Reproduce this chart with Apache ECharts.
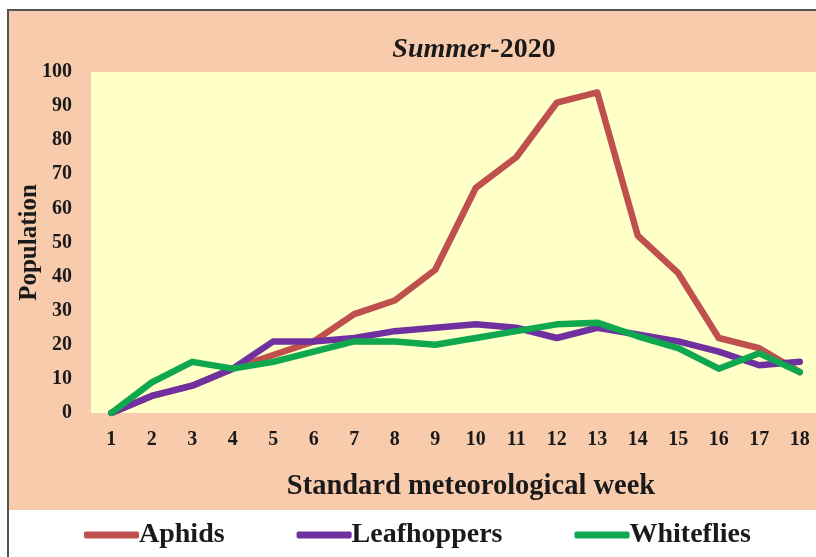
<!DOCTYPE html>
<html>
<head>
<meta charset="utf-8">
<script src="https://cdn.jsdelivr.net/npm/echarts@6/dist/echarts.min.js"></script>
<style>
html, body { margin: 0; padding: 0; background: #fff; }
#chart { width: 816px; height: 557px; }
</style>
</head>
<body>
<div id="chart"></div>
<script>
// weeks on x axis
var weeks = ['1', '2', '3', '4', '5', '6', '7', '8', '9', '10', '11', '12', '13', '14', '15', '16', '17', '18'];
// population
var aphids = [0, 5, 8, 13, 17, 21, 29, 33, 42, 66, 75, 91, 94, 52, 41, 22, 19, 12];
var leafhoppers = [0, 5, 8, 13, 21, 21, 22, 24, 25, 26, 25, 22, 25, 23, 21, 18, 14, 15];
var whiteflies = [0, 9, 15, 13, 15, 18, 21, 21, 20, 22, 24, 26, 26.5, 22.5, 19, 13, 17.5, 12];
var yTicks = [0, 10, 20, 30, 40, 50, 60, 70, 80, 90, 100];

var serif = '"Liberation Serif", "DejaVu Serif", serif';

var chart = echarts.init(document.getElementById('chart'));

function line(name, data, color) {
    return {
        name: name,
        type: 'line',
        data: data,
        symbol: 'none',
        lineStyle: { width: 6.5, color: color, cap: 'round', join: 'round' },
        itemStyle: { color: color }
    };
}

var option = {
    backgroundColor: '#ffffff',
    animation: false,
    graphic: [
        // chart frame, orange part and white legend strip
        {
            type: 'rect', z: -10, silent: true,
            shape: { x: 8, y: 10, width: 830, height: 560 },
            style: { fill: '#ffffff', stroke: '#555555', lineWidth: 2 }
        },
        {
            type: 'rect', z: -9, silent: true,
            shape: { x: 9, y: 11, width: 830, height: 499 },
            style: { fill: '#F8CBAD' }
        },
        {
            type: 'text', z: 10,
            x: 474, y: 50,
            style: {
                text: '{i|Summer}{b|-2020}',
                align: 'center', verticalAlign: 'middle',
                rich: {
                    i: { fontFamily: serif, fontStyle: 'italic', fontWeight: 'bold', fontSize: 28, fill: '#1a1a1a' },
                    b: { fontFamily: serif, fontWeight: 'bold', fontSize: 28, fill: '#1a1a1a' }
                }
            }
        },
        {
            type: 'text', z: 10,
            x: 471, y: 487,
            style: {
                text: 'Standard meteorological week',
                align: 'center', verticalAlign: 'middle',
                fontFamily: serif, fontWeight: 'bold', fontSize: 28.5, fill: '#1a1a1a'
            }
        }
    ],
    grid: {
        left: 91, top: 72, width: 729, height: 341,
        outerBoundsMode: 'none',
        show: true, backgroundColor: '#FFFFC8', borderWidth: 0
    },
    legend: {
        left: 79, top: 516,
        itemWidth: 55, itemHeight: 7, itemGap: 72,
        icon: 'roundRect',
        textStyle: { fontFamily: serif, fontWeight: 'bold', fontSize: 28, color: '#1a1a1a', padding: [0, 0, 0, -5] },
        data: ['Aphids', 'Leafhoppers', 'Whiteflies']
    },
    xAxis: {
        type: 'category',
        data: weeks,
        boundaryGap: true,
        axisLine: { show: false },
        axisTick: { show: false },
        axisLabel: { margin: 17, fontFamily: serif, fontWeight: 'bold', fontSize: 20, color: '#1a1a1a' }
    },
    yAxis: {
        type: 'value',
        min: yTicks[0], max: yTicks[yTicks.length - 1], interval: 10,
        name: 'Population', nameLocation: 'middle', nameRotate: 90, nameGap: 49,
        nameMoveOverlap: false,
        nameTextStyle: { fontFamily: serif, fontWeight: 'bold', fontSize: 25, color: '#1a1a1a' },
        axisLine: { show: false },
        axisTick: { show: false },
        splitLine: { show: false },
        axisLabel: { margin: 19, fontFamily: serif, fontWeight: 'bold', fontSize: 20, color: '#1a1a1a' }
    },
    series: [
        line('Aphids', aphids, '#C0504D'),
        line('Leafhoppers', leafhoppers, '#7030A0'),
        line('Whiteflies', whiteflies, '#0FA84E')
    ]
};

chart.setOption(option);
</script>
</body>
</html>
